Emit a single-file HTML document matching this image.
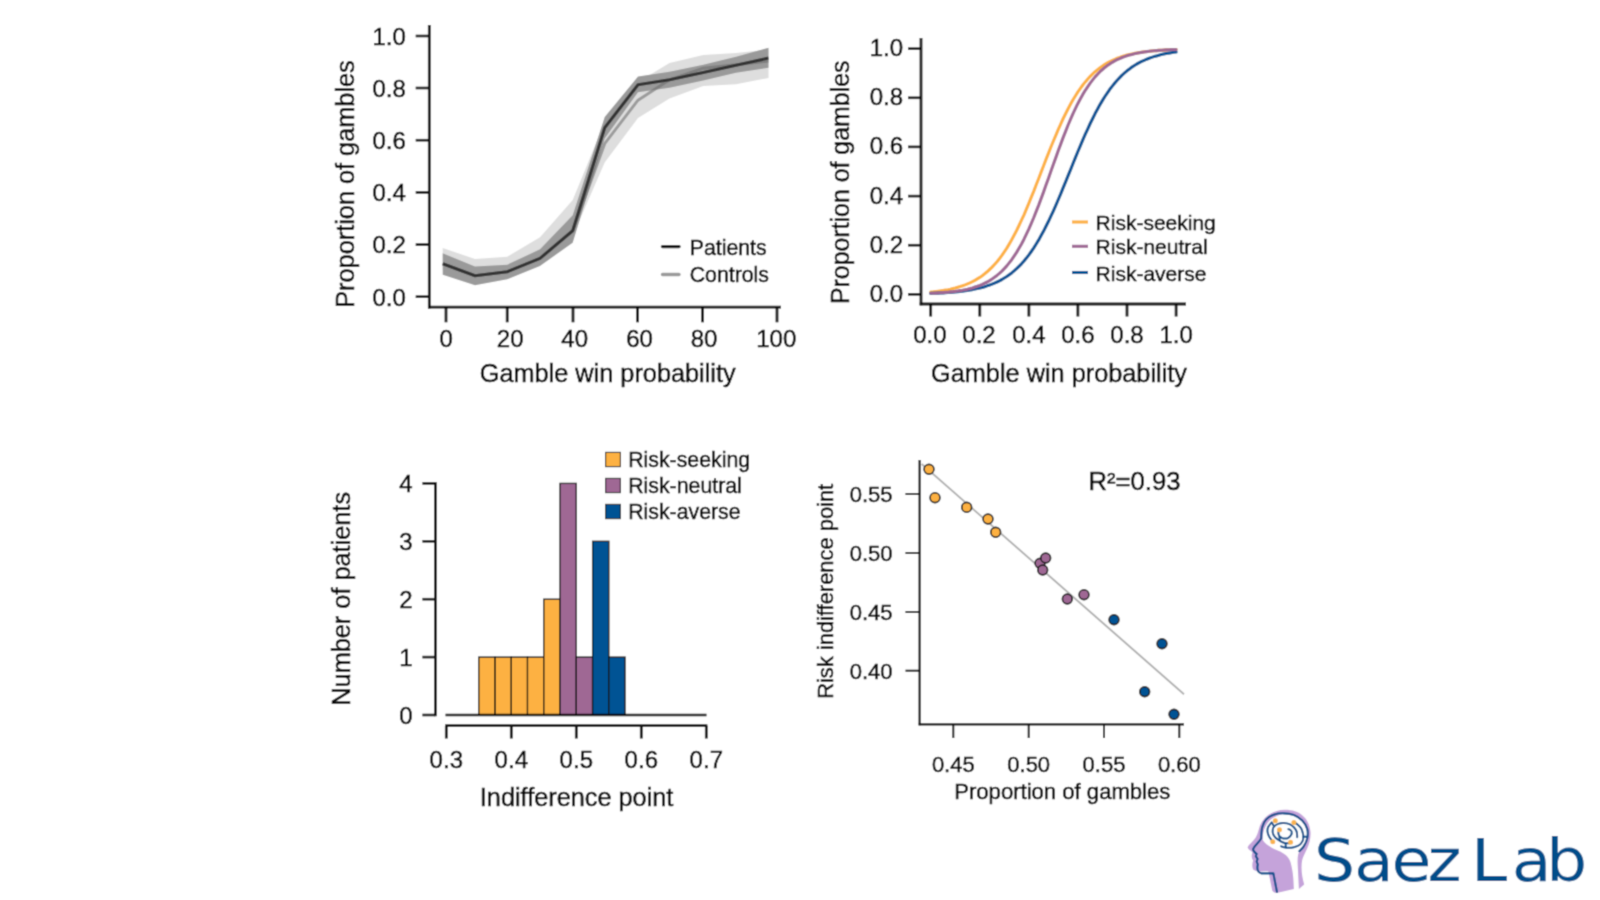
<!DOCTYPE html>
<html lang="en"><head><meta charset="utf-8"><title>Saez Lab figure</title>
<style>
html,body{margin:0;padding:0;background:#fff;}
body{width:1600px;height:900px;overflow:hidden;}
svg{display:block;}
svg text{font-family:"Liberation Sans",Arial,sans-serif;stroke:#050505;stroke-width:0.5px;}
#logo text{stroke:#0F4C86;stroke-width:0;}
</style></head><body>
<svg width="1600" height="900" viewBox="0 0 1600 900">
<defs><filter id="soft" x="0" y="0" width="1600" height="900" filterUnits="userSpaceOnUse"><feConvolveMatrix order="3" kernelMatrix="0.0324 0.1152 0.0324 0.1152 0.4096 0.1152 0.0324 0.1152 0.0324" divisor="1" edgeMode="duplicate" preserveAlpha="true"/></filter></defs>
<g id="all" filter="url(#soft)">
<rect width="1600" height="900" fill="#ffffff"/>
<g id="panel-a">
<polygon points="442.7,248.0 475.0,259.0 507.3,256.7 540.0,237.3 572.7,200.0 604.7,122.0 638.0,82.0 669.5,62.9 703.3,54.9 736.0,53.1 768.5,49.5 768.5,78.0 736.0,84.2 703.3,86.0 669.5,98.4 638.0,118.0 604.7,162.4 572.7,236.0 540.0,262.0 507.3,277.0 475.0,282.0 442.7,270.0" fill="#dedede"/>
<polygon points="442.7,253.3 475.0,266.4 507.3,264.7 540.0,249.3 572.7,215.3 604.7,117.1 638.0,76.6 669.5,71.8 703.3,64.7 736.0,56.7 768.5,47.8 768.5,67.7 736.0,72.7 703.3,80.6 669.5,87.8 638.0,92.2 604.7,138.4 572.7,242.7 540.0,266.0 507.3,279.3 475.0,285.3 442.7,274.7" fill="#9a9a9a"/>
<polyline points="442.7,263.7 475.0,275.7 507.3,271.7 540.0,258.4 572.7,230.7 604.7,143.7 638.0,100.2 669.5,79.8 703.3,68.2 736.0,64.7 768.5,61.1" fill="none" stroke="#6e6e6e" stroke-opacity="0.6" stroke-width="2.9" stroke-linejoin="round"/>
<polyline points="442.7,263.7 475.0,275.7 507.3,271.7 540.0,258.4 572.7,230.7 604.7,127.7 638.0,84.7 669.5,79.8 703.3,72.6 736.0,65.2 768.5,58.1" fill="none" stroke="#333333" stroke-width="3.1" stroke-linejoin="round"/>
<line x1="429.3" y1="25.0" x2="429.3" y2="308.4" stroke="#080808" stroke-width="2.8" stroke-linecap="butt"/>
<line x1="428.0" y1="307.1" x2="781.0" y2="307.1" stroke="#080808" stroke-width="2.8" stroke-linecap="butt"/>
<line x1="415.7" y1="36.0" x2="429.3" y2="36.0" stroke="#080808" stroke-width="2.5999999999999996" stroke-linecap="butt"/>
<text x="405.8" y="44.8" font-size="24" text-anchor="end" fill="#050505">1.0</text>
<line x1="415.7" y1="88.0" x2="429.3" y2="88.0" stroke="#080808" stroke-width="2.5999999999999996" stroke-linecap="butt"/>
<text x="405.8" y="96.8" font-size="24" text-anchor="end" fill="#050505">0.8</text>
<line x1="415.7" y1="140.2" x2="429.3" y2="140.2" stroke="#080808" stroke-width="2.5999999999999996" stroke-linecap="butt"/>
<text x="405.8" y="149.0" font-size="24" text-anchor="end" fill="#050505">0.6</text>
<line x1="415.7" y1="192.4" x2="429.3" y2="192.4" stroke="#080808" stroke-width="2.5999999999999996" stroke-linecap="butt"/>
<text x="405.8" y="201.2" font-size="24" text-anchor="end" fill="#050505">0.4</text>
<line x1="415.7" y1="244.6" x2="429.3" y2="244.6" stroke="#080808" stroke-width="2.5999999999999996" stroke-linecap="butt"/>
<text x="405.8" y="253.4" font-size="24" text-anchor="end" fill="#050505">0.2</text>
<line x1="415.7" y1="296.7" x2="429.3" y2="296.7" stroke="#080808" stroke-width="2.5999999999999996" stroke-linecap="butt"/>
<text x="405.8" y="305.5" font-size="24" text-anchor="end" fill="#050505">0.0</text>
<line x1="446.0" y1="307.1" x2="446.0" y2="322.3" stroke="#080808" stroke-width="2.8" stroke-linecap="butt"/>
<text x="446.3" y="346.7" font-size="24" text-anchor="middle" fill="#050505">0</text>
<line x1="507.2" y1="307.1" x2="507.2" y2="322.3" stroke="#080808" stroke-width="2.8" stroke-linecap="butt"/>
<text x="510.2" y="346.7" font-size="24" text-anchor="middle" fill="#050505">20</text>
<line x1="573.0" y1="307.1" x2="573.0" y2="322.3" stroke="#080808" stroke-width="2.8" stroke-linecap="butt"/>
<text x="574.7" y="346.7" font-size="24" text-anchor="middle" fill="#050505">40</text>
<line x1="637.6" y1="307.1" x2="637.6" y2="322.3" stroke="#080808" stroke-width="2.8" stroke-linecap="butt"/>
<text x="639.6" y="346.7" font-size="24" text-anchor="middle" fill="#050505">60</text>
<line x1="702.6" y1="307.1" x2="702.6" y2="322.3" stroke="#080808" stroke-width="2.8" stroke-linecap="butt"/>
<text x="704.0" y="346.7" font-size="24" text-anchor="middle" fill="#050505">80</text>
<line x1="777.0" y1="307.1" x2="777.0" y2="322.3" stroke="#080808" stroke-width="2.8" stroke-linecap="butt"/>
<text x="776.3" y="346.7" font-size="24" text-anchor="middle" fill="#050505">100</text>
<text x="607.7" y="381.5" font-size="25.3" text-anchor="middle" fill="#050505">Gamble win probability</text>
<text x="354.0" y="184.0" font-size="25.3" text-anchor="middle" fill="#050505" transform="rotate(-90 354.0 184.0)">Proportion of gambles</text>
<line x1="662.5" y1="246.6" x2="679.0" y2="246.6" stroke="#161616" stroke-width="3.3" stroke-linecap="round"/>
<line x1="662.5" y1="274.5" x2="679.0" y2="274.5" stroke="#9a9a9a" stroke-width="3.3" stroke-linecap="round"/>
<text x="689.7" y="255.0" font-size="21.3" text-anchor="start" fill="#050505">Patients</text>
<text x="689.7" y="282.0" font-size="21.3" text-anchor="start" fill="#050505">Controls</text>
</g>
<g id="panel-b">
<polyline points="930.7,292.0 933.2,291.8 935.6,291.5 938.1,291.2 940.5,290.9 943.0,290.5 945.4,290.1 947.9,289.7 950.3,289.2 952.8,288.6 955.2,288.0 957.7,287.3 960.1,286.6 962.6,285.8 965.1,284.9 967.5,283.9 970.0,282.8 972.4,281.7 974.9,280.4 977.3,278.9 979.8,277.4 982.2,275.7 984.7,273.8 987.1,271.8 989.6,269.5 992.1,267.1 994.5,264.5 997.0,261.7 999.4,258.7 1001.9,255.4 1004.3,251.9 1006.8,248.1 1009.2,244.1 1011.7,239.8 1014.1,235.3 1016.6,230.5 1019.0,225.5 1021.5,220.2 1024.0,214.8 1026.4,209.1 1028.9,203.2 1031.3,197.2 1033.8,191.1 1036.2,184.8 1038.7,178.5 1041.1,172.1 1043.6,165.8 1046.0,159.4 1048.5,153.2 1050.9,147.0 1053.4,141.0 1055.9,135.1 1058.3,129.3 1060.8,123.8 1063.2,118.5 1065.7,113.5 1068.1,108.7 1070.6,104.1 1073.0,99.8 1075.5,95.7 1077.9,91.9 1080.4,88.3 1082.8,85.0 1085.3,81.9 1087.8,79.0 1090.2,76.4 1092.7,73.9 1095.1,71.7 1097.6,69.6 1100.0,67.7 1102.5,66.0 1104.9,64.4 1107.4,62.9 1109.8,61.6 1112.3,60.4 1114.8,59.3 1117.2,58.3 1119.7,57.4 1122.1,56.5 1124.6,55.8 1127.0,55.1 1129.5,54.5 1131.9,53.9 1134.4,53.4 1136.8,53.0 1139.3,52.6 1141.7,52.2 1144.2,51.8 1146.7,51.5 1149.1,51.3 1151.6,51.0 1154.0,50.8 1156.5,50.6 1158.9,50.4 1161.4,50.2 1163.8,50.1 1166.3,49.9 1168.7,49.8 1171.2,49.7 1173.6,49.6 1176.1,49.5" fill="none" stroke="#FDB142" stroke-width="3.1" stroke-linecap="round" stroke-linejoin="round"/>
<polyline points="930.7,293.4 933.2,293.3 935.6,293.2 938.1,293.1 940.5,293.0 943.0,292.9 945.4,292.7 947.9,292.5 950.3,292.4 952.8,292.2 955.2,291.9 957.7,291.7 960.1,291.4 962.6,291.1 965.1,290.8 967.5,290.4 970.0,290.0 972.4,289.6 974.9,289.1 977.3,288.6 979.8,288.0 982.2,287.4 984.7,286.7 987.1,285.9 989.6,285.1 992.1,284.1 994.5,283.1 997.0,282.0 999.4,280.8 1001.9,279.5 1004.3,278.0 1006.8,276.5 1009.2,274.8 1011.7,272.9 1014.1,270.9 1016.6,268.7 1019.0,266.3 1021.5,263.8 1024.0,261.0 1026.4,258.1 1028.9,254.9 1031.3,251.5 1033.8,247.9 1036.2,244.0 1038.7,239.9 1041.1,235.6 1043.6,231.1 1046.0,226.3 1048.5,221.3 1050.9,216.1 1053.4,210.8 1055.9,205.2 1058.3,199.5 1060.8,193.7 1063.2,187.7 1065.7,181.7 1068.1,175.6 1070.6,169.6 1073.0,163.5 1075.5,157.4 1077.9,151.5 1080.4,145.6 1082.8,139.8 1085.3,134.2 1087.8,128.8 1090.2,123.5 1092.7,118.5 1095.1,113.6 1097.6,109.0 1100.0,104.6 1102.5,100.4 1104.9,96.5 1107.4,92.8 1109.8,89.3 1112.3,86.1 1114.8,83.0 1117.2,80.2 1119.7,77.6 1122.1,75.1 1124.6,72.9 1127.0,70.8 1129.5,68.9 1131.9,67.1 1134.4,65.5 1136.8,64.0 1139.3,62.7 1141.7,61.4 1144.2,60.3 1146.7,59.2 1149.1,58.3 1151.6,57.4 1154.0,56.6 1156.5,55.9 1158.9,55.2 1161.4,54.6 1163.8,54.1 1166.3,53.6 1168.7,53.1 1171.2,52.7 1173.6,52.3 1176.1,52.0" fill="none" stroke="#005394" stroke-width="3.1" stroke-linecap="round" stroke-linejoin="round"/>
<polyline points="930.7,293.3 933.2,293.2 935.6,293.1 938.1,293.0 940.5,292.8 943.0,292.6 945.4,292.4 947.9,292.2 950.3,291.9 952.8,291.7 955.2,291.4 957.7,291.0 960.1,290.6 962.6,290.2 965.1,289.7 967.5,289.2 970.0,288.6 972.4,287.9 974.9,287.1 977.3,286.3 979.8,285.4 982.2,284.4 984.7,283.2 987.1,282.0 989.6,280.6 992.1,279.0 994.5,277.3 997.0,275.4 999.4,273.4 1001.9,271.1 1004.3,268.6 1006.8,265.9 1009.2,262.9 1011.7,259.7 1014.1,256.2 1016.6,252.4 1019.0,248.3 1021.5,243.9 1024.0,239.2 1026.4,234.2 1028.9,228.9 1031.3,223.4 1033.8,217.5 1036.2,211.4 1038.7,205.1 1041.1,198.6 1043.6,191.9 1046.0,185.1 1048.5,178.2 1050.9,171.2 1053.4,164.3 1055.9,157.4 1058.3,150.6 1060.8,143.9 1063.2,137.4 1065.7,131.1 1068.1,125.0 1070.6,119.2 1073.0,113.6 1075.5,108.4 1077.9,103.4 1080.4,98.7 1082.8,94.4 1085.3,90.3 1087.8,86.6 1090.2,83.1 1092.7,79.9 1095.1,76.9 1097.6,74.2 1100.0,71.7 1102.5,69.5 1104.9,67.4 1107.4,65.6 1109.8,63.9 1112.3,62.3 1114.8,60.9 1117.2,59.7 1119.7,58.6 1122.1,57.5 1124.6,56.6 1127.0,55.8 1129.5,55.1 1131.9,54.4 1134.4,53.8 1136.8,53.3 1139.3,52.8 1141.7,52.4 1144.2,52.0 1146.7,51.6 1149.1,51.3 1151.6,51.0 1154.0,50.8 1156.5,50.6 1158.9,50.4 1161.4,50.2 1163.8,50.0 1166.3,49.9 1168.7,49.8 1171.2,49.6 1173.6,49.5 1176.1,49.5" fill="none" stroke="#9F6894" stroke-width="3.1" stroke-linecap="round" stroke-linejoin="round"/>
<line x1="921.0" y1="38.0" x2="921.0" y2="305.3" stroke="#080808" stroke-width="2.8" stroke-linecap="butt"/>
<line x1="919.7" y1="304.0" x2="1186.0" y2="304.0" stroke="#080808" stroke-width="2.8" stroke-linecap="butt"/>
<line x1="908.0" y1="294.3" x2="921.0" y2="294.3" stroke="#080808" stroke-width="2.5999999999999996" stroke-linecap="butt"/>
<text x="903.0" y="301.8" font-size="24" text-anchor="end" fill="#050505">0.0</text>
<line x1="930.7" y1="304.0" x2="930.7" y2="316.5" stroke="#080808" stroke-width="2.8" stroke-linecap="butt"/>
<text x="929.9" y="342.5" font-size="24" text-anchor="middle" fill="#050505">0.0</text>
<line x1="908.0" y1="245.2" x2="921.0" y2="245.2" stroke="#080808" stroke-width="2.5999999999999996" stroke-linecap="butt"/>
<text x="903.0" y="252.7" font-size="24" text-anchor="end" fill="#050505">0.2</text>
<line x1="979.8" y1="304.0" x2="979.8" y2="316.5" stroke="#080808" stroke-width="2.8" stroke-linecap="butt"/>
<text x="979.0" y="342.5" font-size="24" text-anchor="middle" fill="#050505">0.2</text>
<line x1="908.0" y1="196.1" x2="921.0" y2="196.1" stroke="#080808" stroke-width="2.5999999999999996" stroke-linecap="butt"/>
<text x="903.0" y="203.6" font-size="24" text-anchor="end" fill="#050505">0.4</text>
<line x1="1028.9" y1="304.0" x2="1028.9" y2="316.5" stroke="#080808" stroke-width="2.8" stroke-linecap="butt"/>
<text x="1028.9" y="342.5" font-size="24" text-anchor="middle" fill="#050505">0.4</text>
<line x1="908.0" y1="146.9" x2="921.0" y2="146.9" stroke="#080808" stroke-width="2.5999999999999996" stroke-linecap="butt"/>
<text x="903.0" y="154.4" font-size="24" text-anchor="end" fill="#050505">0.6</text>
<line x1="1077.9" y1="304.0" x2="1077.9" y2="316.5" stroke="#080808" stroke-width="2.8" stroke-linecap="butt"/>
<text x="1077.9" y="342.5" font-size="24" text-anchor="middle" fill="#050505">0.6</text>
<line x1="908.0" y1="97.8" x2="921.0" y2="97.8" stroke="#080808" stroke-width="2.5999999999999996" stroke-linecap="butt"/>
<text x="903.0" y="105.3" font-size="24" text-anchor="end" fill="#050505">0.8</text>
<line x1="1127.0" y1="304.0" x2="1127.0" y2="316.5" stroke="#080808" stroke-width="2.8" stroke-linecap="butt"/>
<text x="1127.0" y="342.5" font-size="24" text-anchor="middle" fill="#050505">0.8</text>
<line x1="908.0" y1="48.7" x2="921.0" y2="48.7" stroke="#080808" stroke-width="2.5999999999999996" stroke-linecap="butt"/>
<text x="903.0" y="56.2" font-size="24" text-anchor="end" fill="#050505">1.0</text>
<line x1="1176.1" y1="304.0" x2="1176.1" y2="316.5" stroke="#080808" stroke-width="2.8" stroke-linecap="butt"/>
<text x="1176.1" y="342.5" font-size="24" text-anchor="middle" fill="#050505">1.0</text>
<text x="1059.0" y="381.5" font-size="25.3" text-anchor="middle" fill="#050505">Gamble win probability</text>
<text x="849.0" y="182.3" font-size="24.9" text-anchor="middle" fill="#050505" transform="rotate(-90 849.0 182.3)">Proportion of gambles</text>
<line x1="1072.0" y1="222.0" x2="1088.0" y2="222.0" stroke="#FDB142" stroke-width="3.0999999999999996" stroke-linecap="butt"/>
<text x="1095.6" y="230.0" font-size="21" text-anchor="start" fill="#050505">Risk-seeking</text>
<line x1="1072.0" y1="246.3" x2="1088.0" y2="246.3" stroke="#9F6894" stroke-width="3.0999999999999996" stroke-linecap="butt"/>
<text x="1095.6" y="254.3" font-size="21" text-anchor="start" fill="#050505">Risk-neutral</text>
<line x1="1072.0" y1="272.5" x2="1088.0" y2="272.5" stroke="#005394" stroke-width="3.0999999999999996" stroke-linecap="butt"/>
<text x="1095.6" y="280.5" font-size="21" text-anchor="start" fill="#050505">Risk-averse</text>
</g>
<g id="panel-c">
<rect x="478.8" y="657.1" width="16.25" height="57.9" fill="#FDB142" stroke="#111111" stroke-width="1.3"/>
<rect x="495.1" y="657.1" width="16.25" height="57.9" fill="#FDB142" stroke="#111111" stroke-width="1.3"/>
<rect x="511.3" y="657.1" width="16.25" height="57.9" fill="#FDB142" stroke="#111111" stroke-width="1.3"/>
<rect x="527.5" y="657.1" width="16.25" height="57.9" fill="#FDB142" stroke="#111111" stroke-width="1.3"/>
<rect x="543.8" y="599.2" width="16.25" height="115.8" fill="#FDB142" stroke="#111111" stroke-width="1.3"/>
<rect x="560.0" y="483.4" width="16.25" height="231.6" fill="#9F6894" stroke="#111111" stroke-width="1.3"/>
<rect x="576.3" y="657.1" width="16.25" height="57.9" fill="#9F6894" stroke="#111111" stroke-width="1.3"/>
<rect x="592.6" y="541.3" width="16.25" height="173.7" fill="#005394" stroke="#111111" stroke-width="1.3"/>
<rect x="608.8" y="657.1" width="16.25" height="57.9" fill="#005394" stroke="#111111" stroke-width="1.3"/>
<line x1="445.5" y1="715.0" x2="706.5" y2="715.0" stroke="#080808" stroke-width="2.5999999999999996" stroke-linecap="butt"/>
<line x1="445.2" y1="725.7" x2="707.3" y2="725.7" stroke="#080808" stroke-width="2.8" stroke-linecap="butt"/>
<line x1="446.3" y1="725.7" x2="446.3" y2="738.5" stroke="#080808" stroke-width="2.8" stroke-linecap="butt"/>
<text x="446.3" y="768.0" font-size="24" text-anchor="middle" fill="#050505">0.3</text>
<line x1="511.3" y1="725.7" x2="511.3" y2="738.5" stroke="#080808" stroke-width="2.8" stroke-linecap="butt"/>
<text x="511.3" y="768.0" font-size="24" text-anchor="middle" fill="#050505">0.4</text>
<line x1="576.3" y1="725.7" x2="576.3" y2="738.5" stroke="#080808" stroke-width="2.8" stroke-linecap="butt"/>
<text x="576.3" y="768.0" font-size="24" text-anchor="middle" fill="#050505">0.5</text>
<line x1="641.3" y1="725.7" x2="641.3" y2="738.5" stroke="#080808" stroke-width="2.8" stroke-linecap="butt"/>
<text x="641.3" y="768.0" font-size="24" text-anchor="middle" fill="#050505">0.6</text>
<line x1="706.3" y1="725.7" x2="706.3" y2="738.5" stroke="#080808" stroke-width="2.8" stroke-linecap="butt"/>
<text x="706.3" y="768.0" font-size="24" text-anchor="middle" fill="#050505">0.7</text>
<line x1="435.4" y1="482.2" x2="435.4" y2="716.2" stroke="#080808" stroke-width="2.8" stroke-linecap="butt"/>
<line x1="422.4" y1="715.0" x2="435.4" y2="715.0" stroke="#080808" stroke-width="2.5999999999999996" stroke-linecap="butt"/>
<text x="412.6" y="723.5" font-size="24" text-anchor="end" fill="#050505">0</text>
<line x1="422.4" y1="657.1" x2="435.4" y2="657.1" stroke="#080808" stroke-width="2.5999999999999996" stroke-linecap="butt"/>
<text x="412.6" y="665.6" font-size="24" text-anchor="end" fill="#050505">1</text>
<line x1="422.4" y1="599.2" x2="435.4" y2="599.2" stroke="#080808" stroke-width="2.5999999999999996" stroke-linecap="butt"/>
<text x="412.6" y="607.7" font-size="24" text-anchor="end" fill="#050505">2</text>
<line x1="422.4" y1="541.3" x2="435.4" y2="541.3" stroke="#080808" stroke-width="2.5999999999999996" stroke-linecap="butt"/>
<text x="412.6" y="549.8" font-size="24" text-anchor="end" fill="#050505">3</text>
<line x1="422.4" y1="483.4" x2="435.4" y2="483.4" stroke="#080808" stroke-width="2.5999999999999996" stroke-linecap="butt"/>
<text x="412.6" y="491.9" font-size="24" text-anchor="end" fill="#050505">4</text>
<text x="576.6" y="805.5" font-size="25.3" text-anchor="middle" fill="#050505">Indifference point</text>
<text x="350.0" y="598.8" font-size="25.3" text-anchor="middle" fill="#050505" transform="rotate(-90 350.0 598.8)">Number of patients</text>
<rect x="605.6" y="452.4" width="14.8" height="14.2" fill="#FDB142" stroke="#1a1a1a" stroke-width="1.1"/>
<text x="628.2" y="467.3" font-size="21.3" text-anchor="start" fill="#050505">Risk-seeking</text>
<rect x="605.6" y="478.4" width="14.8" height="14.2" fill="#9F6894" stroke="#1a1a1a" stroke-width="1.1"/>
<text x="628.2" y="493.3" font-size="21.3" text-anchor="start" fill="#050505">Risk-neutral</text>
<rect x="605.6" y="504.4" width="14.8" height="14.2" fill="#005394" stroke="#1a1a1a" stroke-width="1.1"/>
<text x="628.2" y="519.3" font-size="21.3" text-anchor="start" fill="#050505">Risk-averse</text>
</g>
<g id="panel-d">
<line x1="921.7" y1="464.0" x2="1184.0" y2="694.3" stroke="#b0b0b0" stroke-width="1.8" stroke-linecap="butt"/>
<circle cx="929" cy="469.3" r="4.9" fill="#FDB142" stroke="#1a1a1a" stroke-width="1.6"/>
<circle cx="935" cy="497.7" r="4.9" fill="#FDB142" stroke="#1a1a1a" stroke-width="1.6"/>
<circle cx="966.7" cy="507.3" r="4.9" fill="#FDB142" stroke="#1a1a1a" stroke-width="1.6"/>
<circle cx="988" cy="519" r="4.9" fill="#FDB142" stroke="#1a1a1a" stroke-width="1.6"/>
<circle cx="995.7" cy="532.3" r="4.9" fill="#FDB142" stroke="#1a1a1a" stroke-width="1.6"/>
<circle cx="1040" cy="563.3" r="4.9" fill="#9F6894" stroke="#1a1a1a" stroke-width="1.6"/>
<circle cx="1045.7" cy="558" r="4.9" fill="#9F6894" stroke="#1a1a1a" stroke-width="1.6"/>
<circle cx="1042.7" cy="570" r="4.9" fill="#9F6894" stroke="#1a1a1a" stroke-width="1.6"/>
<circle cx="1067.3" cy="599" r="4.9" fill="#9F6894" stroke="#1a1a1a" stroke-width="1.6"/>
<circle cx="1084" cy="594.7" r="4.9" fill="#9F6894" stroke="#1a1a1a" stroke-width="1.6"/>
<circle cx="1114" cy="619.7" r="4.9" fill="#005394" stroke="#1a1a1a" stroke-width="1.6"/>
<circle cx="1162" cy="643.7" r="4.9" fill="#005394" stroke="#1a1a1a" stroke-width="1.6"/>
<circle cx="1144.7" cy="691.7" r="4.9" fill="#005394" stroke="#1a1a1a" stroke-width="1.6"/>
<circle cx="1174" cy="714.3" r="4.9" fill="#005394" stroke="#1a1a1a" stroke-width="1.6"/>
<line x1="919.6" y1="460.0" x2="919.6" y2="725.3" stroke="#080808" stroke-width="2.1999999999999997" stroke-linecap="butt"/>
<line x1="918.7" y1="724.4" x2="1184.0" y2="724.4" stroke="#080808" stroke-width="2.1999999999999997" stroke-linecap="butt"/>
<line x1="953.3" y1="724.4" x2="953.3" y2="738.0" stroke="#080808" stroke-width="2.0" stroke-linecap="butt"/>
<text x="953.3" y="772.2" font-size="22" text-anchor="middle" fill="#050505">0.45</text>
<line x1="1028.7" y1="724.4" x2="1028.7" y2="738.0" stroke="#080808" stroke-width="2.0" stroke-linecap="butt"/>
<text x="1028.7" y="772.2" font-size="22" text-anchor="middle" fill="#050505">0.50</text>
<line x1="1104.0" y1="724.4" x2="1104.0" y2="738.0" stroke="#080808" stroke-width="2.0" stroke-linecap="butt"/>
<text x="1104.0" y="772.2" font-size="22" text-anchor="middle" fill="#050505">0.55</text>
<line x1="1179.3" y1="724.4" x2="1179.3" y2="738.0" stroke="#080808" stroke-width="2.0" stroke-linecap="butt"/>
<text x="1179.3" y="772.2" font-size="22" text-anchor="middle" fill="#050505">0.60</text>
<line x1="905.5" y1="494.0" x2="919.6" y2="494.0" stroke="#080808" stroke-width="2.0" stroke-linecap="butt"/>
<text x="892.5" y="502.4" font-size="22" text-anchor="end" fill="#050505">0.55</text>
<line x1="905.5" y1="553.0" x2="919.6" y2="553.0" stroke="#080808" stroke-width="2.0" stroke-linecap="butt"/>
<text x="892.5" y="561.4" font-size="22" text-anchor="end" fill="#050505">0.50</text>
<line x1="905.5" y1="612.0" x2="919.6" y2="612.0" stroke="#080808" stroke-width="2.0" stroke-linecap="butt"/>
<text x="892.5" y="620.4" font-size="22" text-anchor="end" fill="#050505">0.45</text>
<line x1="905.5" y1="670.7" x2="919.6" y2="670.7" stroke="#080808" stroke-width="2.0" stroke-linecap="butt"/>
<text x="892.5" y="679.1" font-size="22" text-anchor="end" fill="#050505">0.40</text>
<text x="1062.3" y="799.0" font-size="22.1" text-anchor="middle" fill="#050505">Proportion of gambles</text>
<text x="833.0" y="591.3" font-size="21.9" text-anchor="middle" fill="#050505" transform="rotate(-90 833.0 591.3)">Risk indifference point</text>
<text x="1088.4" y="490.4" font-size="25.7" fill="#050505">R²=0.93</text>
</g>
<g id="logo">
<g transform="translate(1240,800) scale(0.1111)">
<path d="M400,88 C300,92 215,140 180,230 C165,270 165,300 140,340 C115,375 80,400 68,425 C72,445 95,455 112,470 C100,500 105,525 118,545 C108,575 108,600 118,625 C150,650 200,642 255,642 L290,815 C300,835 320,840 340,835 L485,800 C482,720 480,650 455,560 C440,510 400,480 340,455 C280,430 230,400 205,360 C200,250 260,140 400,125 C520,120 610,200 605,310 C600,380 570,420 540,455 C520,480 515,520 520,600 L530,800 L578,760 C560,700 545,620 560,540 C580,470 640,400 635,290 C625,160 530,85 400,88 Z" fill="#C5A3DA"/>
<path d="M333,828 L300,660 L190,660 C165,652 150,625 160,580 L150,555 L158,530 L142,505 L150,485 C130,470 115,460 118,440 C140,400 175,380 190,345" fill="none" stroke="#064E8A" stroke-width="19" stroke-linecap="round" stroke-linejoin="round"/>
<path d="M190.0,345.0 C191.7,328.3 192.5,273.3 200.0,245.0 C207.5,216.7 216.7,194.2 235.0,175.0 C253.3,155.8 283.3,139.2 310.0,130.0 C336.7,120.8 365.8,119.2 395.0,120.0 C424.2,120.8 457.5,124.2 485.0,135.0 C512.5,145.8 540.0,164.2 560.0,185.0 C580.0,205.8 597.5,233.3 605.0,260.0 C612.5,286.7 610.0,319.2 605.0,345.0 C600.0,370.8 586.7,395.8 575.0,415.0 C563.3,434.2 541.7,452.5 535.0,460.0" fill="none" stroke="#064E8A" stroke-width="19" stroke-linecap="round"/>
<path d="M285.0,202.5 C279.6,209.6 258.8,231.2 252.5,245.0 C246.2,258.8 246.2,271.7 247.5,285.0 C248.8,298.3 254.6,313.3 260.0,325.0 C265.4,336.7 276.7,350.0 280.0,355.0" fill="none" stroke="#064E8A" stroke-width="18" stroke-linecap="round" stroke-linejoin="round"/>
<path d="M515.0,335.0 C514.2,326.7 515.0,300.0 510.0,285.0 C505.0,270.0 495.8,256.2 485.0,245.0 C474.2,233.8 460.0,223.8 445.0,217.5 C430.0,211.2 410.8,208.3 395.0,207.5 C379.2,206.7 364.6,207.5 350.0,212.5 C335.4,217.5 316.7,228.8 307.5,237.5 C298.3,246.2 296.7,253.8 295.0,265.0 C293.3,276.2 293.3,292.5 297.5,305.0 C301.7,317.5 310.4,330.0 320.0,340.0 C329.6,350.0 342.5,357.5 355.0,365.0 C367.5,372.5 381.7,380.8 395.0,385.0 C408.3,389.2 425.0,390.7 435.0,390.0 C445.0,389.3 451.7,382.5 455.0,381.0" fill="none" stroke="#064E8A" stroke-width="18" stroke-linecap="round" stroke-linejoin="round"/>
<path d="M485.0,202.5 C490.0,205.0 504.2,208.8 515.0,217.5 C525.8,226.2 541.2,240.4 550.0,255.0 C558.8,269.6 564.2,292.5 567.5,305.0 C570.8,317.5 570.4,320.0 570.0,330.0 C569.6,340.0 570.8,352.5 565.0,365.0 C559.2,377.5 548.3,395.0 535.0,405.0 C521.7,415.0 501.7,420.8 485.0,425.0 C468.3,429.2 450.0,430.0 435.0,430.0 C420.0,430.0 405.8,427.1 395.0,425.0 C384.2,422.9 374.2,418.8 370.0,417.5" fill="none" stroke="#064E8A" stroke-width="18" stroke-linecap="round" stroke-linejoin="round"/>
<path d="M355.0,267.5 C353.3,272.1 345.0,285.4 345.0,295.0 C345.0,304.6 349.2,317.1 355.0,325.0 C360.8,332.9 371.7,338.8 380.0,342.5 C388.3,346.2 395.8,347.9 405.0,347.5 C414.2,347.1 425.8,345.4 435.0,340.0 C444.2,334.6 455.0,324.2 460.0,315.0 C465.0,305.8 466.7,292.9 465.0,285.0 C463.3,277.1 455.0,271.2 450.0,267.5 C445.0,263.8 437.5,263.3 435.0,262.5" fill="none" stroke="#064E8A" stroke-width="18" stroke-linecap="round" stroke-linejoin="round"/>
<path d="M285,202.5 L307.5,237.5 M570,330 L605,330 M410,395 L412.5,425 M355,330 L357.5,362.5" fill="none" stroke="#064E8A" stroke-width="18" stroke-linecap="round" stroke-linejoin="round"/>
<circle cx="317.5" cy="187.5" r="22.5" fill="#F9B24E"/>
<circle cx="485" cy="202.5" r="22.5" fill="#F9B24E"/>
<circle cx="355" cy="267.5" r="22.5" fill="#F9B24E"/>
<circle cx="295" cy="375" r="22.5" fill="#F9B24E"/>
<circle cx="455" cy="381" r="22.5" fill="#F9B24E"/>
</g>
<text y="880.8" x="1194.5 1231.0 1264.9 1297.8 1329.1 1337.3 1374.4 1405.5" transform="scale(1.1,1)" style="font-family:'DejaVu Sans','Liberation Sans',sans-serif" font-size="59" fill="#044E8A">Saez Lab</text>
</g>
</g>
</svg>
</body></html>
